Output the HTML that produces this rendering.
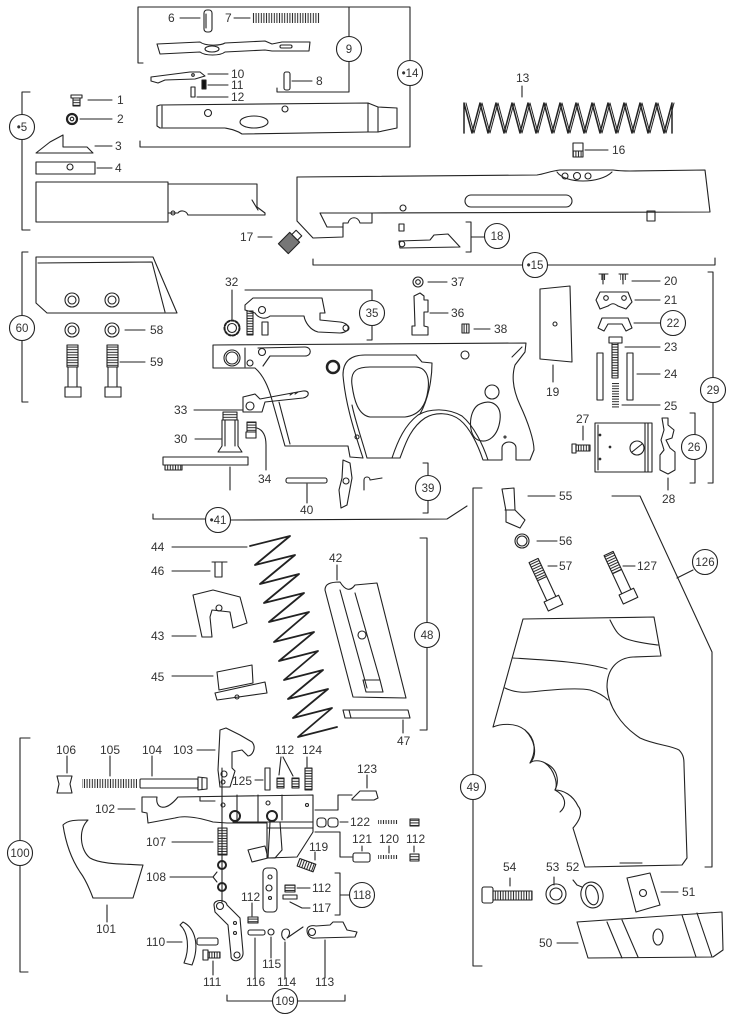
<!DOCTYPE html>
<html><head><meta charset="utf-8">
<style>
html,body{margin:0;padding:0;background:#fff;}
svg{display:block}
text{font-family:"Liberation Sans",sans-serif;font-size:12px;fill:#333;stroke:none;}
.c{text-anchor:middle;font-size:11.5px}
</style></head><body>
<svg width="741" height="1033" viewBox="0 0 741 1033" xmlns="http://www.w3.org/2000/svg">
<defs>
<pattern id="vh" width="2.6" height="3" patternUnits="userSpaceOnUse"><path d="M1.3,0V3" stroke="#222" stroke-width="1"/></pattern>
<pattern id="hh" width="3" height="2.6" patternUnits="userSpaceOnUse"><path d="M0,1.3H3" stroke="#222" stroke-width="1"/></pattern>
<pattern id="dh" width="3" height="3" patternUnits="userSpaceOnUse"><path d="M0,3L3,0" stroke="#333" stroke-width="1"/></pattern>
</defs>
<g fill="none" stroke="#222" stroke-width="1.1" stroke-linejoin="round" stroke-linecap="round">

<!-- ===== Group 9 / 14 ===== -->
<path d="M143,63 H138 V7 H410 V60 M410,86 V147 H140 V141"/>
<path d="M349,7 V36 M349,62 V92 H277 V88"/>
<circle cx="349" cy="49" r="12.5"/>
<circle cx="410" cy="73" r="12.5"/>
<!-- 6 -->
<path d="M180,18 H200"/>
<rect x="204" y="10" width="8" height="22" rx="3"/>
<path d="M206,14 V28"/>
<!-- 7 -->
<path d="M234,18 H250"/>
<rect x="252" y="13" width="68" height="10" fill="url(#vh)" stroke="none"/>
<!-- slider -->
<path d="M157,44 L200,42 C205,46 220,46 225,43 L265,41 L272,44 L282,42 L310,42 L309,51 L272,51 L265,50 L225,52 C220,56 205,56 200,52 L160,54 Z"/>
<ellipse cx="212" cy="49" rx="7" ry="3"/>
<rect x="280" y="45" width="12" height="3" rx="1.5"/>
<!-- 10 11 12 8 -->
<path d="M151,77 L190,72 L200,72 L205,76 L195,79 L165,80 L158,83 L151,81 Z"/>
<circle cx="193" cy="75" r="1.3"/>
<path d="M208,74 H228 M208,85 H228 M197,97 H228"/>
<rect x="202" y="80" width="4" height="9" fill="#111"/>
<rect x="191" y="87" width="4" height="10"/>
<rect x="284" y="72" width="6" height="18" rx="2"/>
<path d="M292,81 H312"/>
<!-- barrel -->
<path d="M157,106 L160,105 L368,103 L378,107 L397,108 L397,128 L378,132 L368,132 L242,134 C236,130 230,129 225,128 L160,128 L157,126 Z"/>
<path d="M162,106 V127 M368,103 V132 M378,107 V132"/>
<circle cx="208" cy="113" r="3.5"/>
<circle cx="285" cy="109" r="3"/>
<ellipse cx="254" cy="122" rx="14" ry="6"/>

<!-- ===== Group 5 ===== -->
<path d="M30,92 H22 V114 M22,140 V230 H30"/>
<circle cx="22" cy="127" r="12.5"/>
<rect x="71" y="95" width="11" height="3"/>
<rect x="73" y="98" width="7" height="8" fill="url(#hh)"/>
<path d="M88,100 H112 M80,119 H112 M95,146 H112 M97,168 H112"/>
<circle cx="72" cy="119" r="5" stroke-width="2.2"/>
<circle cx="72" cy="119" r="1.8"/>
<path d="M36,153 L50,142 L63,135 L63,147 L87,147 L93,153 Z"/>
<rect x="36" y="162" width="59" height="12"/>
<circle cx="70" cy="167" r="3"/>
<rect x="36" y="182" width="132" height="40"/>
<path d="M168,184 L257,184 L257,207 L265,213 L265,215 L188,215 C186,210 180,210 178,213 L168,213"/>
<path d="M252,200 L258,210"/>
<circle cx="173" cy="213" r="2"/>

<!-- ===== Spring 13 ===== -->
<path d="M522,86 V97"/>
<polyline stroke-width="1.5" points="464,133 464,103 472,133 480,103 488,133 496,103 504,133 512,103 520,133 528,103 536,133 544,103 552,133 560,103 568,133 576,103 584,133 592,103 600,133 608,103 616,133 624,103 632,133 640,103 648,133 656,103 664,133 672,103 672,133"/>
<polyline stroke-width="1" points="466,103 474,133 482,103 490,133 498,103 506,133 514,103 522,133 530,103 538,133 546,103 554,133 562,103 570,133 578,103 586,133 594,103 602,133 610,103 618,133 626,103 634,133 642,103 650,133 658,103 666,133 674,103"/>
<!-- 16 -->
<rect x="573" y="143" width="10" height="8"/>
<rect x="573" y="151" width="10" height="6" fill="url(#vh)"/>
<path d="M585,150 H608"/>

<!-- ===== Slide 15 ===== -->
<path d="M297,177 L537,175 C545,174 550,171 560,170 L613,170 C620,171 625,171 630,171 L705,170 L710,212 L372,213 L372,223 L360,223 C358,216 350,216 348,223 L343,223 L343,237 L313,238 L297,221 Z"/>
<path d="M320,213 L372,213 M320,213 L327,227 L343,227"/>
<path d="M557,172 C565,184 600,184 612,172"/>
<circle cx="565" cy="176" r="3"/><circle cx="577" cy="176" r="3.5"/><circle cx="588" cy="176" r="3"/>
<rect x="465" y="195" width="107" height="12" rx="6"/>
<circle cx="403" cy="208" r="3"/>
<rect x="647" y="211" width="8" height="10"/>
<!-- 17 -->
<path d="M258,237 H272"/>
<g transform="rotate(-45 289 243)"><rect x="281" y="236" width="16" height="14" fill="#777"/><rect x="297" y="239" width="6" height="8" fill="#fff"/></g>
<!-- 18 -->
<rect x="399" y="224" width="5" height="7"/>
<path d="M399,241 L430,240 L434,235 L448,234 L460,247 L400,248 Z"/>
<circle cx="402" cy="244" r="2.8"/>
<path d="M466,222 H471 V252 H466 M471,237 H484"/>
<circle cx="497" cy="236" r="12.5"/>
<!-- 15 bracket -->
<path d="M313,259 V265 H522 M548,265 H715 V258"/>
<circle cx="535" cy="265" r="12.5"/>

<!-- ===== Group 60 ===== -->
<path d="M28,252 H22 V315 M22,341 V402 H28"/>
<circle cx="22" cy="328" r="12.5"/>
<path d="M36,257 L153,257 L177,313 L47,313 L36,303 Z"/>
<path d="M38,263 L152,262 L165,312"/>
<circle cx="72" cy="300" r="7"/><circle cx="72" cy="300" r="4"/>
<circle cx="112" cy="300" r="7"/><circle cx="112" cy="300" r="4"/>
<circle cx="72" cy="330" r="7"/><circle cx="72" cy="330" r="4"/>
<circle cx="112" cy="330" r="7"/><circle cx="112" cy="330" r="4"/>
<path d="M125,330 H145 M120,362 H145"/>
<rect x="67" y="345" width="11" height="22" fill="url(#hh)"/>
<path d="M68,367 V387 M77,367 V387"/>
<rect x="65" y="387" width="16" height="10"/>
<rect x="107" y="345" width="11" height="22" fill="url(#hh)"/>
<path d="M108,367 V387 M117,367 V387"/>
<rect x="105" y="387" width="16" height="10"/>

<!-- ===== Group 41 ===== -->
<path d="M232,290 V319"/>
<circle cx="232" cy="328" r="7.5" stroke-width="2" stroke-dasharray="2.5 1.8"/>
<circle cx="232" cy="328" r="4.5"/>
<rect x="247" y="311" width="6" height="24" fill="url(#hh)"/>
<rect x="262" y="322" width="6" height="13"/>
<path d="M245,290 H372 V300 M372,326 V340 H367"/>
<circle cx="372" cy="313" r="12.5"/>
<path d="M245,305 L253,298 L322,298 L325,313 L320,313 L320,320 L340,322 C350,323 352,332 340,333 L318,332 C310,330 305,322 304,316 L270,316 C265,320 258,318 255,313 L245,310 Z"/>
<circle cx="262" cy="310" r="3.5"/>
<circle cx="346" cy="328" r="3"/>
<circle cx="418" cy="282" r="5"/><circle cx="418" cy="282" r="2.3"/>
<path d="M428,282 H447 M430,313 H448 M474,329 H490"/>
<path d="M414,296 L420,293 L424,296 L424,300 L428,300 L428,312 L424,312 L424,326 L428,327 L428,335 L412,335 L412,326 L415,326 Z"/>
<rect x="462" y="324" width="7" height="9" fill="url(#vh)"/>
<!-- frame -->
<path d="M213,368 L213,345 L526,343 L525,352 L515,365 C511,378 514,392 520,405 C528,422 534,440 534,450 L530,460 L516,460 L516,448 C516,440 502,440 502,448 L502,460 L483,460 C478,445 470,428 460,420 C450,412 435,412 425,418 C410,428 405,445 400,458 L367,458"/>
<path d="M367,458 C362,440 355,420 352,405"/>
<path d="M363,458 L350,457 L348,446 L285,446 L272,400 C268,385 262,374 255,368 L213,368"/>
<path d="M279,402 L290,444"/>
<path d="M343,375 C343,360 352,355 365,355 L416,355 L422,362 L432,363 C432,380 428,400 420,414"/>
<path d="M343,375 C345,400 352,425 363,458"/>
<path d="M352,385 C350,370 358,367 370,367 L415,367 C425,367 430,375 428,390 C426,405 420,415 405,417 L370,417 C358,415 354,400 352,385 Z"/>
<path d="M392,458 C398,440 405,425 418,415 C430,408 448,408 462,416 C474,426 483,445 488,460"/>
<path d="M512,357 L522,347"/>
<path d="M245,348 V367"/>
<circle cx="232" cy="358" r="8"/><circle cx="232" cy="358" r="6"/>
<circle cx="250" cy="363" r="3"/>
<path d="M258,348 L305,347 C312,347 312,356 305,356 L270,356 L263,366"/>
<circle cx="262" cy="352" r="3.5"/>
<circle cx="333" cy="367" r="6" stroke-width="2.5"/>
<circle cx="465" cy="355" r="4"/>
<circle cx="492" cy="392" r="7"/>
<path d="M478,405 C490,398 502,404 500,420 C498,436 488,444 478,440 C468,436 468,412 478,405 Z"/>
<circle cx="357" cy="437" r="2"/>
<circle cx="505" cy="437" r="1"/>
<!-- 33 -->
<path d="M194,410 H243"/>
<path d="M243,397 L255,394 L260,399 L303,391 C310,390 310,397 303,398 L265,402 L262,412 L243,412 Z"/>
<circle cx="250" cy="406" r="4"/>
<path d="M290,395 l3,-2 M295,394 l3,-2"/>
<!-- 30 -->
<path d="M195,439 H221"/>
<rect x="223" y="412" width="14" height="8" fill="url(#hh)"/>
<path d="M222,420 H238 L238,446 L242,452 L218,452 L222,446 Z"/>
<path d="M225,420 V446 M235,420 V446"/>
<path d="M163,457 H248 V465 H163 Z"/>
<rect x="165" y="465" width="17" height="5" fill="url(#vh)"/>
<path d="M230,467 V490"/>
<!-- 34 -->
<rect x="247" y="422" width="9" height="10" fill="url(#hh)"/>
<rect x="246" y="432" width="10" height="6"/>
<path d="M257,428 C263,430 266,436 266,445 V470"/>
<!-- 40 -->
<rect x="286" y="478" width="41" height="5" rx="2"/>
<path d="M307,484 V503"/>
<path d="M343,460 L350,463 L352,478 L347,505 L341,508 L339,490 L342,478 Z"/>
<circle cx="346" cy="481" r="3"/>
<path d="M364,490 V480 C364,476 370,476 370,480 L382,478"/>
<!-- 39 -->
<path d="M423,463 H428 V475 M428,501 V513 H423"/>
<circle cx="428" cy="488" r="12.5"/>
<!-- 41 -->
<path d="M153,514 V519 H205 M231,520 L447,519 L467,506"/>
<circle cx="218" cy="520" r="12.5"/>

<!-- ===== Group 29 ===== -->
<path d="M540,289 L570,286 L572,362 L540,359 Z"/>
<circle cx="555" cy="324" r="2"/>
<path d="M553,365 V382"/>
<path d="M599,274 H608 M603,274 V284 M619,274 H628 M623,274 V284"/>
<rect x="600" y="274" width="6" height="6" fill="url(#vh)" stroke="none"/>
<rect x="620" y="274" width="6" height="6" fill="url(#vh)" stroke="none"/>
<path d="M632,281 H660 M635,300 H660 M634,323 H660 M625,347 H660 M637,374 H660 M622,405 H660"/>
<path d="M600,292 L628,292 L632,302 L626,309 L618,306 C614,303 612,303 608,306 L600,309 L596,300 Z"/>
<circle cx="606" cy="298" r="2.3"/><circle cx="624" cy="298" r="2.3"/>
<path d="M598,328 L602,318 L628,318 L632,328 L626,331 L622,324 L608,324 L604,331 Z"/>
<circle cx="673" cy="323" r="12.5"/>
<rect x="609" y="337" width="13" height="6"/>
<rect x="612" y="343" width="6" height="35" fill="url(#hh)"/>
<rect x="597" y="353" width="6" height="47"/>
<rect x="627" y="353" width="6" height="47"/>
<rect x="612" y="383" width="7" height="25" fill="url(#hh)" stroke="none"/>
<path d="M583,426 V440"/>
<rect x="572" y="444" width="4" height="9"/>
<rect x="576" y="445" width="14" height="6" fill="url(#vh)"/>
<rect x="595" y="423" width="57" height="49"/>
<path d="M645,423 V472 M648,423 V472 M598,425 V470"/>
<circle cx="637" cy="448" r="7"/><path d="M632,452 L642,444"/>
<circle cx="600" cy="435" r="0.8"/><circle cx="610" cy="447" r="0.8"/><circle cx="600" cy="459" r="0.8"/>
<path d="M662,418 L668,418 L668,425 L674,430 L672,438 L666,440 L670,448 L675,452 L675,470 L668,474 L660,470 L660,455 L664,450 L661,440 L664,430 Z"/>
<path d="M668,478 V490"/>
<path d="M690,413 H695 V434 M695,460 V483 H690"/>
<circle cx="694" cy="447" r="12.5"/>
<path d="M708,272 H713 V377 M713,403 V483 H708"/>
<circle cx="713" cy="390" r="12.5"/>

<!-- ===== Group 48 ===== -->
<path d="M172,547 H247 M172,571 H210 M172,636 H196 M172,676 H213"/>
<polyline stroke-width="1.8" points="250,546 290,536 255,565 295,555 260,584 299,574 264,603 304,593 269,622 309,612 274,642 314,632 279,661 318,651 284,680 323,670 288,699 328,689 293,718 332,708 298,737 337,727"/>
<path d="M212,562 H227 M215,562 V577 M222,562 V577 M215,577 H222"/>
<path d="M193,595 L213,590 L240,597 L247,623 L233,628 L230,612 L212,610 L210,617 L212,637 L202,637 Z"/>
<circle cx="219" cy="608" r="3"/>
<path d="M217,672 L252,665 L253,683 L219,690 Z M215,693 L265,682 L267,693 L217,700 Z"/>
<circle cx="237" cy="697" r="2"/>
<path d="M337,565 V580"/>
<path d="M325,590 C325,584 330,582 340,582 C345,590 350,592 355,585 L377,583 L406,698 L353,697 Z"/>
<path d="M340,590 L367,688 M355,593 L380,680 M363,680 L380,680 L383,692 L366,692 Z"/>
<circle cx="362" cy="635" r="4"/>
<path d="M343,710 L408,710 L410,718 L345,718 Z M349,710 L351,718"/>
<path d="M403,720 V733"/>
<path d="M420,538 H427 V622 M427,648 V730 H420"/>
<circle cx="427" cy="635" r="12.5"/>

<!-- ===== Group 49 / 126 ===== -->
<path d="M482,488 H473 V774 M473,800 V966 H482"/>
<circle cx="473" cy="787" r="12.5"/>
<path d="M502,489 L514,488 L515,510 L525,520 L520,528 L506,522 L506,511 Z M505,510 L515,510"/>
<path d="M528,496 H555 M537,541 H557 M548,566 H557 M623,566 H635"/>
<circle cx="522" cy="541" r="7"/><circle cx="522" cy="541" r="5"/>
<g transform="rotate(-25 545 585)">
<rect x="540" y="558" width="10" height="20" fill="url(#hh)"/>
<path d="M540,578 V600 M550,578 V600"/>
<rect x="537" y="600" width="16" height="10"/>
</g>
<g transform="rotate(-25 620 578)">
<rect x="615" y="551" width="10" height="20" fill="url(#hh)"/>
<path d="M615,571 V593 M625,571 V593"/>
<rect x="612" y="593" width="16" height="10"/>
</g>
<path d="M612,496 H640 L712,652 V867 H705"/>
<path d="M677,578 L693,570"/>
<circle cx="705" cy="562" r="12.5"/>
<!-- grip -->
<path d="M523,619 L654,617 L661,656 L633,657 C618,658 607,668 607,687 C608,705 620,725 640,738 C655,745 670,745 679,750 C684,755 684,760 684,765 L687,858 L682,865 L585,867 L573,828 C580,820 583,812 578,806 C573,795 563,790 555,790 C560,780 557,768 545,763 C540,760 533,760 530,763 C537,750 535,738 525,730 C515,722 500,724 493,727 Z"/>
<path d="M513,658 C545,660 585,662 607,669"/>
<path d="M505,688 C515,693 525,693 540,691 C560,689 580,688 590,690 C600,693 605,697 608,700"/>
<path d="M610,620 C615,630 618,637 630,640 C640,643 650,644 658,645"/>
<path d="M525,730 C535,740 538,755 530,763 M555,790 C565,795 568,805 560,812 M545,763 C555,770 558,785 555,790"/>
<path d="M620,863 H642"/>
<!-- 54 53 52 51 50 -->
<path d="M510,878 V886"/>
<rect x="482" y="887" width="11" height="16" rx="2"/>
<rect x="493" y="891" width="39" height="9" fill="url(#vh)"/>
<path d="M554,877 V885"/>
<circle cx="556" cy="894" r="10"/><circle cx="556" cy="894" r="6"/>
<path d="M573,880 L577,885 L582,887"/>
<ellipse cx="592" cy="895" rx="11" ry="13" transform="rotate(-15 592 895)"/>
<ellipse cx="592" cy="895" rx="6" ry="10" transform="rotate(-15 592 895)"/>
<path d="M627,878 L650,873 L660,905 L636,912 Z"/>
<circle cx="643" cy="893" r="3.5"/>
<path d="M661,892 H678"/>
<path d="M577,922 L722,912 L723,950 L713,957 L588,958 Z"/>
<path d="M607,922 L622,958 M622,920 L638,957 M682,915 L696,957 M697,913 L712,957"/>
<ellipse cx="658" cy="937" rx="5" ry="8"/>
<path d="M557,943 H578"/>

<!-- ===== Group 100 ===== -->
<path d="M30,738 H20 V840 M20,866 V972 H28"/>
<circle cx="20" cy="853" r="12.5"/>
<path d="M67,756 V773 M110,756 V776 M152,756 V776 M197,750 H215 M281,757 L279,775 M283,757 L293,776 M307,757 V767"/>
<path d="M57,776 L72,776 L70,784 L72,793 L57,793 L59,784 Z"/>
<rect x="82" y="779" width="55" height="9" fill="url(#vh)" stroke="none"/>
<rect x="140" y="779" width="58" height="9" rx="1"/>
<path d="M198,777 L207,778 L207,789 L198,790 Z M202,778 V789"/>
<path d="M220,730 L226,728 L240,735 L252,742 C257,748 252,756 248,756 L242,750 L232,752 L232,768 L235,771 L230,787 L220,787 L218,770 Z"/>
<circle cx="224" cy="774" r="3"/><circle cx="223" cy="782" r="2"/>
<path d="M255,780 H263"/>
<rect x="265" y="768" width="5" height="22"/>
<rect x="277" y="778" width="7" height="10" fill="url(#hh)"/>
<rect x="292" y="778" width="7" height="10" fill="url(#hh)"/>
<rect x="305" y="768" width="7" height="22" fill="url(#hh)"/>
<path d="M367,775 V788"/>
<path d="M352,799 L360,791 L376,791 L378,798 L374,800 L352,800 Z"/>
<!-- 102 -->
<path d="M118,809 H135"/>
<path d="M142,797 L157,797 C155,808 165,813 178,797 L313,795 L313,832 L297,857 L267,858 L267,823 L227,823 L213,822 C200,818 185,815 175,818 L148,823 L147,813 L142,812 Z"/>
<path d="M200,797 V801 H215 M237,795 V823 M258,795 V823 M282,795 V820 M233,822 H313 M267,828 H313"/>
<circle cx="235" cy="816" r="5" stroke-width="2"/>
<circle cx="272" cy="816" r="5" stroke-width="2"/>
<circle cx="223" cy="805" r="2"/><circle cx="268" cy="803" r="2"/><circle cx="307" cy="805" r="1.5"/>
<path d="M270,822 L280,822 L282,850 L275,858 L268,858 Z"/>
<path d="M248,850 L265,846 L268,858 L252,862 Z"/>
<path d="M315,810 H338 V795 H352 M315,832 H340 V857 H352"/>
<!-- 101 -->
<path d="M63,825 C68,820 75,820 88,820 C78,830 80,850 90,858 C100,864 120,864 143,865 L133,898 L93,898 C90,890 86,880 80,872 C72,860 66,845 63,825 Z"/>
<path d="M107,905 V922"/>
<!-- 107/108 -->
<path d="M222,768 V902"/>
<path d="M172,842 H213 M170,877 H213 L217,872 M213,877 L217,882"/>
<rect x="218" y="828" width="9" height="27" fill="url(#hh)"/>
<circle cx="222" cy="865" r="4" stroke-width="2"/>
<circle cx="222" cy="887" r="4" stroke-width="2"/>
<!-- 119 -->
<path d="M315,852 V860"/>
<g transform="rotate(20 306 865)"><rect x="298" y="861" width="17" height="8" fill="url(#vh)"/></g>
<!-- 122 120 112 121 -->
<rect x="317" y="818" width="9" height="9" rx="3"/>
<rect x="328" y="818" width="10" height="9" rx="3"/>
<path d="M340,822 H348"/>
<rect x="378" y="820" width="20" height="4" fill="url(#vh)" stroke="none"/>
<rect x="410" y="819" width="9" height="7" fill="url(#hh)"/>
<rect x="353" y="853" width="17" height="9" rx="2"/>
<rect x="378" y="855" width="20" height="4" fill="url(#vh)" stroke="none"/>
<rect x="410" y="854" width="9" height="7" fill="url(#hh)"/>
<path d="M362,846 V851 M389,846 V853 M414,846 V852"/>
<!-- 118 -->
<rect x="263" y="868" width="14" height="44" rx="4"/>
<circle cx="270" cy="877" r="2"/><circle cx="269" cy="888" r="3"/><circle cx="270" cy="898" r="1.5"/>
<rect x="285" y="885" width="10" height="7" fill="url(#hh)"/>
<path d="M297,888 H310"/>
<rect x="283" y="895" width="14" height="4"/>
<path d="M290,902 L302,908 H310"/>
<path d="M335,873 H340 V915 H335 M340,895 H349"/>
<circle cx="362" cy="895" r="12.5"/>
<path d="M252,903 V916"/>
<rect x="248" y="917" width="10" height="6" fill="url(#hh)"/>
<!-- link -->
<path d="M214,905 C214,899 226,899 227,905 L240,918 L243,952 C244,962 230,964 231,955 L228,925 L215,912 Z"/>
<circle cx="220" cy="906" r="3.5"/>
<circle cx="235" cy="923" r="1.5"/><circle cx="235" cy="933" r="1.5"/><circle cx="237" cy="955" r="3"/>
<!-- 110 111 -->
<path d="M167,942 H182"/>
<path d="M183,922 C195,928 200,945 192,965 L184,963 C190,948 188,932 180,925 Z"/>
<rect x="197" y="938" width="21" height="7" rx="2"/>
<rect x="203" y="950" width="5" height="10"/>
<rect x="208" y="952" width="12" height="6" fill="url(#vh)"/>
<path d="M213,961 V975"/>
<!-- 116 115 114 113 -->
<rect x="248" y="930" width="17" height="5" rx="2"/>
<path d="M255,938 V978"/>
<circle cx="271" cy="932" r="3"/>
<path d="M271,937 V958"/>
<path d="M285,940 C280,937 281,929 286,929 C290,929 291,934 287,938 L303,927"/>
<path d="M285,942 V978"/>
<path d="M307,930 C307,926 312,925 316,926 L330,925 L333,922 L343,922 L347,930 L357,932 L355,937 L316,938 C310,939 307,935 307,930 Z"/>
<circle cx="312" cy="932" r="3.5"/>
<path d="M325,940 V978"/>
<path d="M227,995 V1001 H272 M298,1001 H345 V995"/>
<circle cx="285" cy="1001" r="12.5"/>
</g>

<!-- ===== TEXT ===== -->
<text x="168" y="22">6</text>
<text x="225" y="22">7</text>
<text x="231" y="78">10</text>
<text x="231" y="89">11</text>
<text x="231" y="101">12</text>
<text x="316" y="85">8</text>
<text class="c" x="349" y="53">9</text>
<text class="c" x="410" y="77">•14</text>
<text x="516" y="82">13</text>
<text x="612" y="154">16</text>
<text x="117" y="104">1</text>
<text x="117" y="123">2</text>
<text x="115" y="150">3</text>
<text x="115" y="172">4</text>
<text class="c" x="22" y="131">•5</text>
<text x="240" y="241">17</text>
<text class="c" x="497" y="240">18</text>
<text class="c" x="535" y="269">•15</text>
<text class="c" x="22" y="332">60</text>
<text x="150" y="334">58</text>
<text x="150" y="366">59</text>
<text x="225" y="286">32</text>
<text class="c" x="372" y="317">35</text>
<text x="451" y="286">37</text>
<text x="451" y="317">36</text>
<text x="494" y="333">38</text>
<text x="174" y="414">33</text>
<text x="174" y="443">30</text>
<text x="258" y="483">34</text>
<text x="300" y="514">40</text>
<text class="c" x="428" y="492">39</text>
<text class="c" x="218" y="524">•41</text>
<text x="546" y="396">19</text>
<text x="664" y="285">20</text>
<text x="664" y="304">21</text>
<text class="c" x="673" y="327">22</text>
<text x="664" y="351">23</text>
<text x="664" y="378">24</text>
<text x="664" y="410">25</text>
<text x="576" y="423">27</text>
<text x="662" y="503">28</text>
<text class="c" x="694" y="451">26</text>
<text class="c" x="713" y="394">29</text>
<text x="151" y="551">44</text>
<text x="151" y="575">46</text>
<text x="151" y="640">43</text>
<text x="151" y="681">45</text>
<text x="329" y="562">42</text>
<text x="397" y="745">47</text>
<text class="c" x="427" y="639">48</text>
<text x="559" y="500">55</text>
<text x="559" y="545">56</text>
<text x="559" y="570">57</text>
<text x="637" y="570">127</text>
<text class="c" x="705" y="566">126</text>
<text class="c" x="473" y="791">49</text>
<text x="503" y="871">54</text>
<text x="546" y="871">53</text>
<text x="566" y="871">52</text>
<text x="682" y="896">51</text>
<text x="539" y="947">50</text>
<text class="c" x="20" y="857">100</text>
<text x="56" y="754">106</text>
<text x="100" y="754">105</text>
<text x="142" y="754">104</text>
<text x="173" y="754">103</text>
<text x="275" y="754">112</text>
<text x="302" y="754">124</text>
<text x="232" y="785">125</text>
<text x="357" y="773">123</text>
<text x="95" y="813">102</text>
<text x="350" y="826">122</text>
<text x="352" y="843">121</text>
<text x="379" y="843">120</text>
<text x="406" y="843">112</text>
<text x="146" y="846">107</text>
<text x="309" y="851">119</text>
<text x="146" y="881">108</text>
<text x="312" y="892">112</text>
<text x="312" y="912">117</text>
<text class="c" x="362" y="899">118</text>
<text x="241" y="901">112</text>
<text x="96" y="933">101</text>
<text x="146" y="946">110</text>
<text x="262" y="968">115</text>
<text x="203" y="986">111</text>
<text x="246" y="986">116</text>
<text x="277" y="986">114</text>
<text x="315" y="986">113</text>
<text class="c" x="285" y="1005">109</text>
</svg>
</body></html>
